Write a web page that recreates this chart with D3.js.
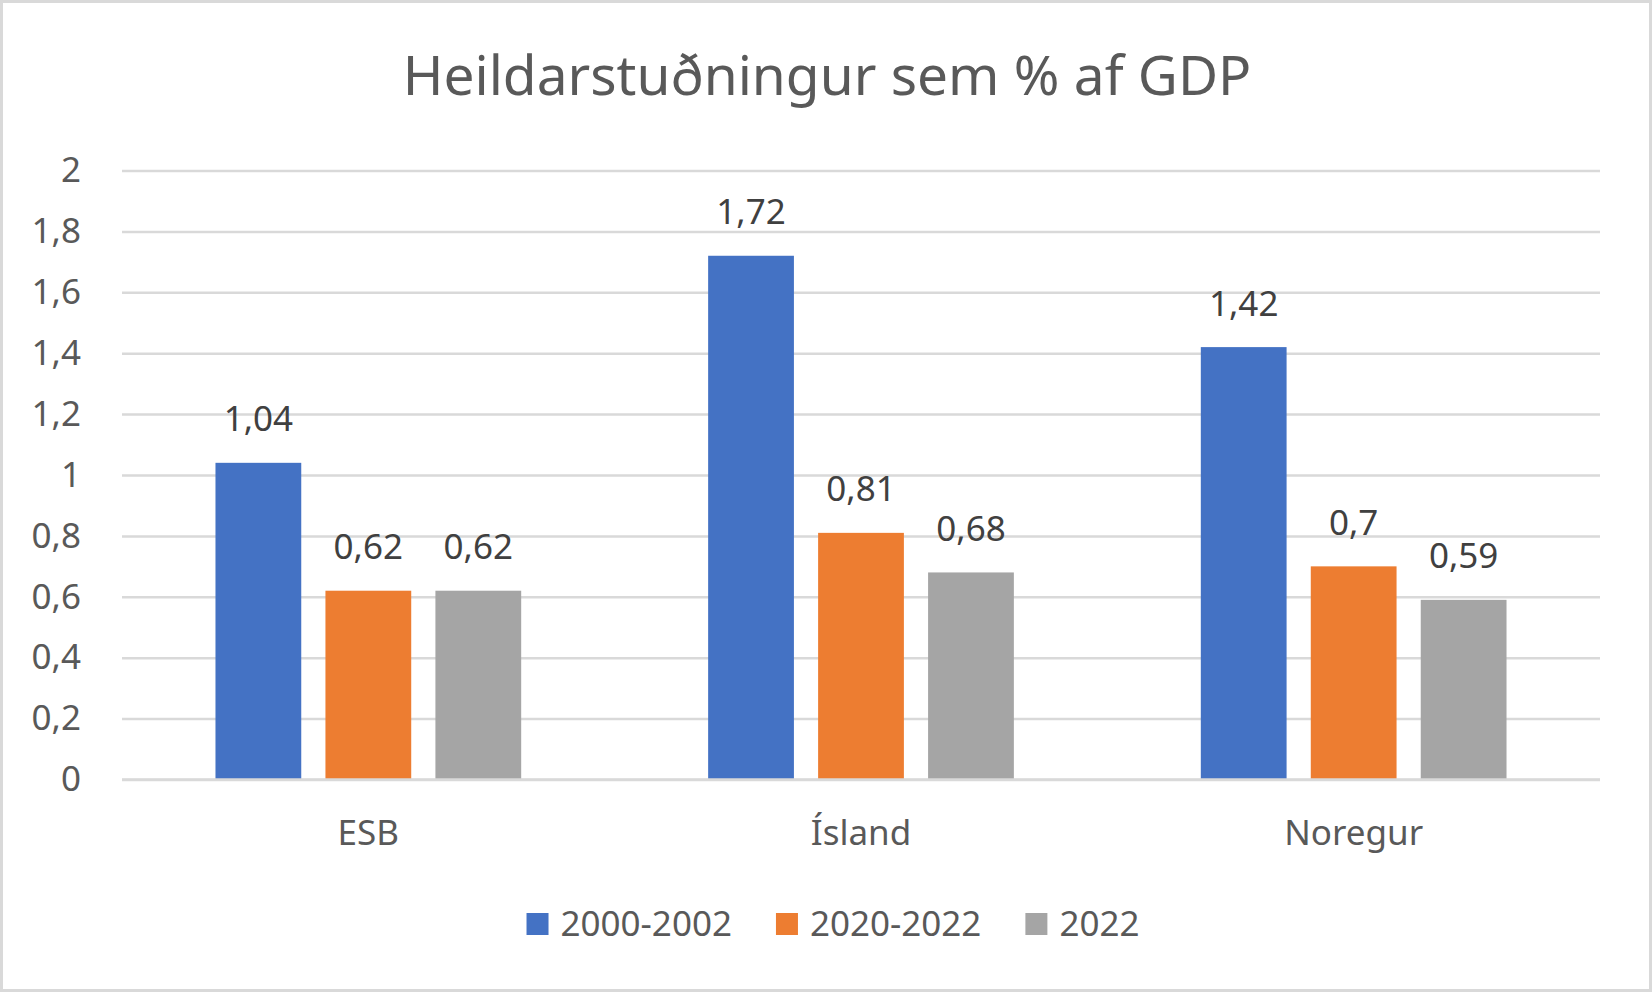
<!DOCTYPE html>
<html>
<head>
<meta charset="utf-8">
<script src="https://cdn.jsdelivr.net/npm/d3@7"></script>
<style>
  html, body { margin: 0; padding: 0; background: #fff; }
  svg { display: block; font-family: "Noto Sans", sans-serif; }
</style>
</head>
<body>
<svg id="chart" width="1652" height="992"></svg>
<script>
const categories = ['ESB', 'Ísland', 'Noregur']
const seriesNames = ['2000-2002', '2020-2022', '2022']
const series1 = [1.04, 1.72, 1.42]
const series2 = [0.62, 0.81, 0.7]
const series3 = [0.62, 0.68, 0.59]
const yTicks = [0, 0.2, 0.4, 0.6, 0.8, 1, 1.2, 1.4, 1.6, 1.8, 2]
const COLORS = ['#4472C4', '#ED7D31', '#A5A5A5']

const W = 1652
const H = 992
const svg = d3.select('#chart')
const locale = d3.formatLocale({decimal: ',', thousands: '.', grouping: [3], currency: ['', '']})
const fmt = locale.format('.2~f')

// outer frame
svg.append('rect')
    .attr('x', 1.5).attr('y', 1.5)
    .attr('width', W - 3).attr('height', H - 3)
    .attr('fill', '#fff')
    .attr('stroke', '#D9D9D9')
    .attr('stroke-width', 3)

svg.append('text')
    .attr('x', 827).attr('y', 95)
    .attr('text-anchor', 'middle')
    .attr('font-size', 55)
    .attr('fill', '#595959')
    .text('Heildarstuðningur sem % af GDP')

const y = d3.scaleLinear().domain([0, 2]).range([779.5, 170.5])
const x0 = d3.scaleBand().domain(categories).range([122, 1600]).padding(0)
const x1 = d3.scaleBand().domain(seriesNames).range([0, x0.bandwidth()])
    .paddingInner(0.22).paddingOuter(0.85)

// gridlines
const yAxis = d3.axisLeft(y)
    .tickValues(yTicks)
    .tickSize(-(1600 - 122))
    .tickPadding(41)
    .tickFormat(fmt)

const gy = svg.append('g')
    .attr('transform', 'translate(122,0)')
    .call(yAxis)
gy.select('.domain').remove()
gy.selectAll('.tick line')
    .attr('stroke', '#D9D9D9')
    .attr('stroke-width', 2.5)
gy.selectAll('.tick text')
    .attr('font-size', 35)
    .attr('fill', '#595959')
    .attr('font-family', '"Noto Sans", sans-serif')

const rows = categories.map((c, i) => ({
    category: c,
    values: [series1[i], series2[i], series3[i]]
}))

const groups = svg.selectAll('.group')
    .data(rows)
    .enter().append('g')
    .attr('class', 'group')
    .attr('transform', d => `translate(${x0(d.category)},0)`)

groups.selectAll('rect')
    .data(d => d.values.map((v, k) => ({name: seriesNames[k], value: v, k})))
    .enter().append('rect')
    .attr('x', d => x1(d.name))
    .attr('y', d => y(d.value))
    .attr('width', x1.bandwidth())
    .attr('height', d => y(0) - y(d.value))
    .attr('fill', d => COLORS[d.k])

groups.selectAll('.label')
    .data(d => d.values.map((v, k) => ({name: seriesNames[k], value: v, k})))
    .enter().append('text')
    .attr('class', 'label')
    .attr('x', d => x1(d.name) + x1.bandwidth() / 2)
    .attr('y', d => y(d.value) - 31.5)
    .attr('text-anchor', 'middle')
    .attr('font-size', 35)
    .attr('fill', '#404040')
    .text(d => fmt(d.value))

// baseline
svg.append('line')
    .attr('x1', 122).attr('x2', 1600)
    .attr('y1', y(0)).attr('y2', y(0))
    .attr('stroke', '#D9D9D9')
    .attr('stroke-width', 2.5)

// category labels
svg.selectAll('.cat')
    .data(categories)
    .enter().append('text')
    .attr('class', 'cat')
    .attr('x', d => x0(d) + x0.bandwidth() / 2)
    .attr('y', 845)
    .attr('text-anchor', 'middle')
    .attr('font-size', 35)
    .attr('fill', '#595959')
    .text(d => d)

// legend
const legend = svg.append('g')
const items = legend.selectAll('.item')
    .data(seriesNames)
    .enter().append('g')
    .attr('class', 'item')
items.append('rect')
    .attr('width', 22).attr('height', 22)
    .attr('y', 913)
    .attr('fill', (d, i) => COLORS[i])
items.append('text')
    .attr('x', 34)
    .attr('y', 936)
    .attr('font-size', 35)
    .attr('fill', '#595959')
    .text(d => d)

let offset = 0
const positions = []
items.each(function() {
    const w = d3.select(this).select('text').node().getComputedTextLength()
    positions.push(offset)
    offset += 34 + w + 44
})
const total = offset - 44
const startX = 833 - total / 2
items.attr('transform', (d, i) => `translate(${startX + positions[i]},0)`)
</script>
</body>
</html>
